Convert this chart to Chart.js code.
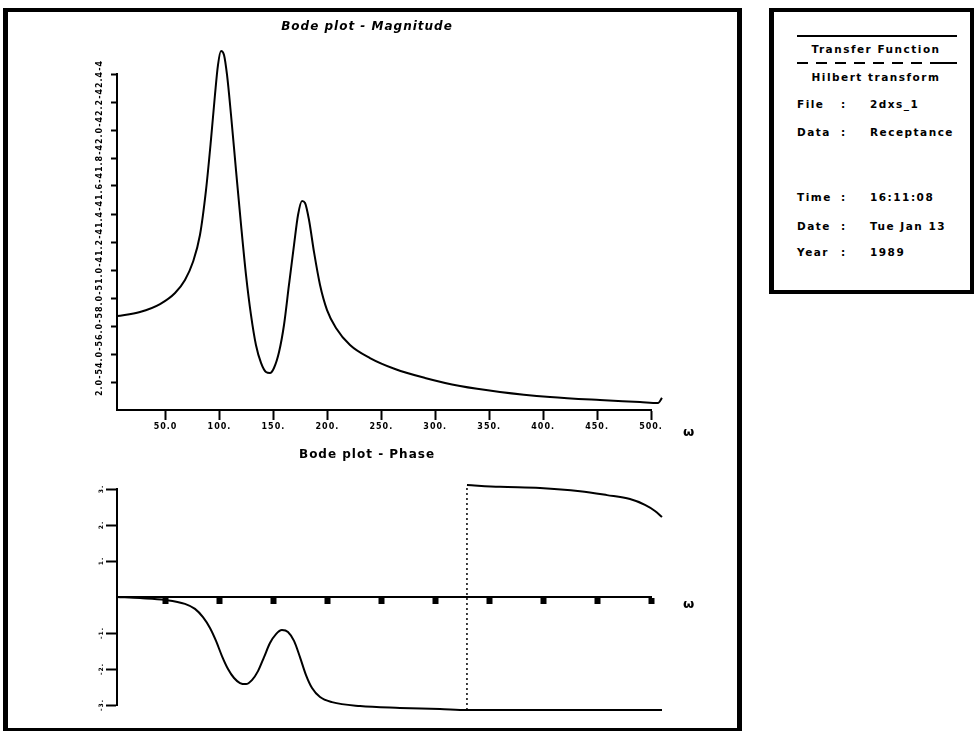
<!DOCTYPE html>
<html>
<head>
<meta charset="utf-8">
<title>Bode plot - Hilbert transform</title>
<script src="https://cdn.jsdelivr.net/npm/chart.js@4/dist/chart.umd.min.js"></script>
<style>
  body { margin: 0; background: #fff; }
  #page { position: relative; width: 976px; height: 732px; overflow: hidden; font-family: 'DejaVu Sans', sans-serif; font-weight: bold; color: #000; }
  .frame { position: absolute; left: 3px; top: 8px; width: 739px; height: 723px; box-sizing: border-box; border: 5px solid #000; border-top-width: 4px; border-bottom-width: 3px; }
  .plot { position: absolute; left: 0; width: 740px; }
  #magWrap { top: 0; height: 445px; }
  #phaseWrap { top: 436px; height: 290px; }
  .omega { position: absolute; font-size: 13px; line-height: 13px; }
  .info { position: absolute; left: 769px; top: 8px; width: 205px; height: 286px; box-sizing: border-box; border: 4px solid #000; border-left-width: 5px; }
  .info .txt { position: absolute; font-size: 10.5px; line-height: 12px; letter-spacing: 1.5px; white-space: nowrap; }
  .rule { position: absolute; height: 2px; background: #000; }
  .dashed { position: absolute; height: 2px; background: repeating-linear-gradient(to right, #000 0 11px, transparent 11px 19px); }
</style>
</head>
<body>
<div id="page">
  <div class="frame"></div>
  <div class="plot" id="magWrap"><canvas id="magChart"></canvas></div>
  <div class="plot" id="phaseWrap"><canvas id="phaseChart"></canvas></div>
  <div class="omega" style="left:683px; top:425px;">ω</div>
  <div class="omega" style="left:683px; top:597px;">ω</div>

  <div class="info">
    <div class="rule" style="left:23px; top:23px; width:160px;"></div>
    <div class="txt" style="left:4px; width:196px; text-align:center; top:31px;">Transfer Function</div>
    <div class="dashed" style="left:23px; top:50px; width:142px;"></div>
    <div class="rule" style="left:165px; top:50px; width:18px;"></div>
    <div class="txt" style="left:4px; width:196px; text-align:center; top:59px;">Hilbert transform</div>
    <div class="txt" style="left:23px; top:86px;">File</div>
    <div class="txt" style="left:67px; top:86px;">:</div>
    <div class="txt" style="left:96px; top:86px;">2dxs_1</div>
    <div class="txt" style="left:23px; top:114px;">Data</div>
    <div class="txt" style="left:67px; top:114px;">:</div>
    <div class="txt" style="left:96px; top:114px;">Receptance</div>
    <div class="txt" style="left:23px; top:179px;">Time</div>
    <div class="txt" style="left:67px; top:179px;">:</div>
    <div class="txt" style="left:96px; top:179px;">16:11:08</div>
    <div class="txt" style="left:23px; top:208px;">Date</div>
    <div class="txt" style="left:67px; top:208px;">:</div>
    <div class="txt" style="left:96px; top:208px;">Tue Jan 13</div>
    <div class="txt" style="left:23px; top:234px;">Year</div>
    <div class="txt" style="left:67px; top:234px;">:</div>
    <div class="txt" style="left:96px; top:234px;">1989</div>
  </div>
</div>

<script>
// Frequency axis (shared by both plots)
const xTicks = [50, 100, 150, 200, 250, 300, 350, 400, 450, 500];
const xTickLabels = ['50.0', '100.', '150.', '200.', '250.', '300.', '350.', '400.', '450.', '500.'];

// Magnitude axis ticks
const magTicks = [2.0e-5, 4.0e-5, 6.0e-5, 8.0e-5, 1.0e-4, 1.2e-4, 1.4e-4, 1.6e-4, 1.8e-4, 2.0e-4, 2.2e-4, 2.4e-4];
const magTickLabels = ['2.0-5', '4.0-5', '6.0-5', '8.0-5', '1.0-4', '1.2-4', '1.4-4', '1.6-4', '1.8-4', '2.0-4', '2.2-4', '2.4-4'];

// Phase axis ticks (rad)
const phaseTicks = [-3, -2, -1, 1, 2, 3];
const phaseTickLabels = ['-3.', '-2.', '-1.', '1.', '2.', '3.'];

// Receptance magnitude
const magOmega = [5, 26.3, 44.9, 58.8, 68.0, 75.4, 81.9, 87.5, 92.1, 95.8, 98.6, 101.4, 104.2, 107.0, 110.7, 115.3, 120.0, 124.6, 129.2, 133.8, 138.5, 143.1, 146.8, 150.5, 155.2, 159.8, 164.4, 169.1, 172.8, 176.5, 179.3, 183.0, 187.6, 193.2, 199.7, 208.0, 221.0, 239.5, 262.7, 290.5, 323.0, 360.0, 406.4, 452.7, 489.8, 506.5, 510.2];
const magnitude = [6.71e-5, 7.0e-5, 7.57e-5, 8.36e-5, 9.29e-5, 1.057e-4, 1.25e-4, 1.571e-4, 1.929e-4, 2.25e-4, 2.464e-4, 2.564e-4, 2.536e-4, 2.393e-4, 2.107e-4, 1.714e-4, 1.321e-4, 9.64e-5, 6.79e-5, 4.64e-5, 3.36e-5, 2.71e-5, 2.64e-5, 3.0e-5, 4.14e-5, 6.07e-5, 8.93e-5, 1.179e-4, 1.393e-4, 1.493e-4, 1.479e-4, 1.357e-4, 1.129e-4, 8.93e-5, 7.14e-5, 5.86e-5, 4.64e-5, 3.71e-5, 2.93e-5, 2.29e-5, 1.71e-5, 1.29e-5, 9.3e-6, 7.1e-6, 5.7e-6, 5.0e-6, 8.6e-6];

// Phase, unwrapped branch down to -pi
const phaseOmega = [5, 26.3, 49.5, 68.0, 77.3, 84.7, 91.2, 96.8, 102.3, 107.9, 113.5, 119.0, 124.6, 130.1, 135.7, 141.3, 146.8, 152.4, 157.9, 163.5, 169.1, 174.6, 180.2, 185.8, 193.2, 204.3, 230.3, 267.3, 304.4, 329.4, 510.2];
const phase = [0, -0.03, -0.08, -0.19, -0.33, -0.56, -0.86, -1.22, -1.64, -2.0, -2.25, -2.39, -2.42, -2.31, -2.06, -1.67, -1.28, -1.03, -0.92, -0.97, -1.22, -1.67, -2.17, -2.53, -2.78, -2.92, -3.03, -3.08, -3.11, -3.14, -3.14];

// Phase after the wrap to +pi
const wrapOmega = [329.4, 360.0, 397.1, 434.2, 459.2, 480.5, 494.4, 503.7, 510.2];
const wrappedPhase = [3.11, 3.06, 3.03, 2.94, 2.83, 2.72, 2.56, 2.39, 2.22];

// Wrap jump
const jumpOmega = [329.4, 329.4];
const jumpPhase = [-3.14, 3.11];

const pts = (xs, ys) => xs.map((x, i) => ({ x: x, y: ys[i] }));

Chart.defaults.font.family = "'DejaVu Sans', sans-serif";
Chart.defaults.font.weight = 'bold';
Chart.defaults.color = '#000';

// plotter-style spaced lettering
const spacedText = {
    id: 'spacedText',
    beforeDraw: (chart) => { chart.ctx.letterSpacing = '1px'; }
};

const lineStyle = {
    borderColor: '#000',
    borderWidth: 2,
    pointRadius: 0,
    fill: false,
    clip: false,
    cubicInterpolationMode: 'monotone'
};

const axisLines = (tickLength, tickWidth) => ({
    grid: { drawOnChartArea: false, color: '#000', tickColor: '#000', tickLength: tickLength, tickWidth: tickWidth },
    border: { color: '#000', width: 2 }
});

// frequency scale with data running a little past 500
const freqScale = (extra) => Object.assign({
    type: 'linear',
    bounds: 'data',
    afterDataLimits: (s) => { s.min = 5; s.max = 500; },
    afterBuildTicks: (s) => { s.ticks = xTicks.map(v => ({ value: v })); }
}, extra);

const baseOptions = {
    responsive: true,
    maintainAspectRatio: false,
    animation: false,
    events: [],
    plugins: { legend: { display: false }, tooltip: { enabled: false } }
};

// left padding + axis width put the plot edge at x=117, titles centred a bit left of the page middle
const padding = (bottom) => ({ left: 83, right: 89, top: 0, bottom: bottom });

// Magnitude
new Chart(document.getElementById('magChart').getContext('2d'), {
    type: 'line',
    data: {
        datasets: [Object.assign({ data: pts(magOmega, magnitude) }, lineStyle)]
    },
    options: Object.assign({}, baseOptions, {
        layout: { padding: padding(0) },
        plugins: Object.assign({}, baseOptions.plugins, {
            title: {
                display: true,
                text: 'Bode plot - Magnitude',
                color: '#000',
                font: { size: 12, weight: 'bold', style: 'italic' },
                padding: { top: 19.4, bottom: 40.2 }
            }
        }),
        scales: {
            x: freqScale(Object.assign({
                afterFit: (s) => { s.height = 35; },
                ticks: {
                    autoSkip: false, maxRotation: 0, padding: 2,
                    font: { size: 8, weight: 'bold' },
                    callback: (v, i) => xTickLabels[i]
                }
            }, axisLines(10, 2))),
            y: Object.assign({
                min: 0,
                max: 2.4e-4,
                afterBuildTicks: (s) => { s.ticks = magTicks.map(v => ({ value: v })); },
                afterFit: (s) => { s.width = 34; },
                ticks: {
                    autoSkip: false, minRotation: 90, maxRotation: 90, crossAlign: 'center', padding: 0,
                    font: { size: 8, weight: 'bold' },
                    callback: (v, i) => magTickLabels[i]
                }
            }, axisLines(6, 2))
        }
    }),
    plugins: [spacedText]
});

// Phase
new Chart(document.getElementById('phaseChart').getContext('2d'), {
    type: 'line',
    data: {
        datasets: [
            Object.assign({ data: pts(phaseOmega, phase) }, lineStyle),
            Object.assign({ data: pts(wrapOmega, wrappedPhase) }, lineStyle),
            Object.assign({}, lineStyle, {
                data: pts(jumpOmega, jumpPhase),
                borderWidth: 1.5,
                borderDash: [2, 3],
                cubicInterpolationMode: 'default',
                tension: 0
            })
        ]
    },
    options: Object.assign({}, baseOptions, {
        layout: { padding: padding(21) },
        plugins: Object.assign({}, baseOptions.plugins, {
            title: {
                display: true,
                text: 'Bode plot - Phase',
                color: '#000',
                font: { size: 12, weight: 'bold' },
                padding: { top: 11.8, bottom: 26.8 }
            }
        }),
        scales: {
            x: freqScale(Object.assign({
                position: { y: 0 },
                ticks: { display: false }
            }, axisLines(6, 6))),
            y: Object.assign({
                min: -3,
                max: 3,
                afterBuildTicks: (s) => { s.ticks = phaseTicks.map(v => ({ value: v })); },
                afterFit: (s) => { s.width = 34; },
                ticks: {
                    autoSkip: false, minRotation: 90, maxRotation: 90, crossAlign: 'center', padding: 0,
                    font: { size: 6, weight: 'bold' },
                    callback: (v, i) => phaseTickLabels[i]
                }
            }, axisLines(11, 2))
        }
    }),
    plugins: [spacedText]
});
</script>
</body>
</html>
